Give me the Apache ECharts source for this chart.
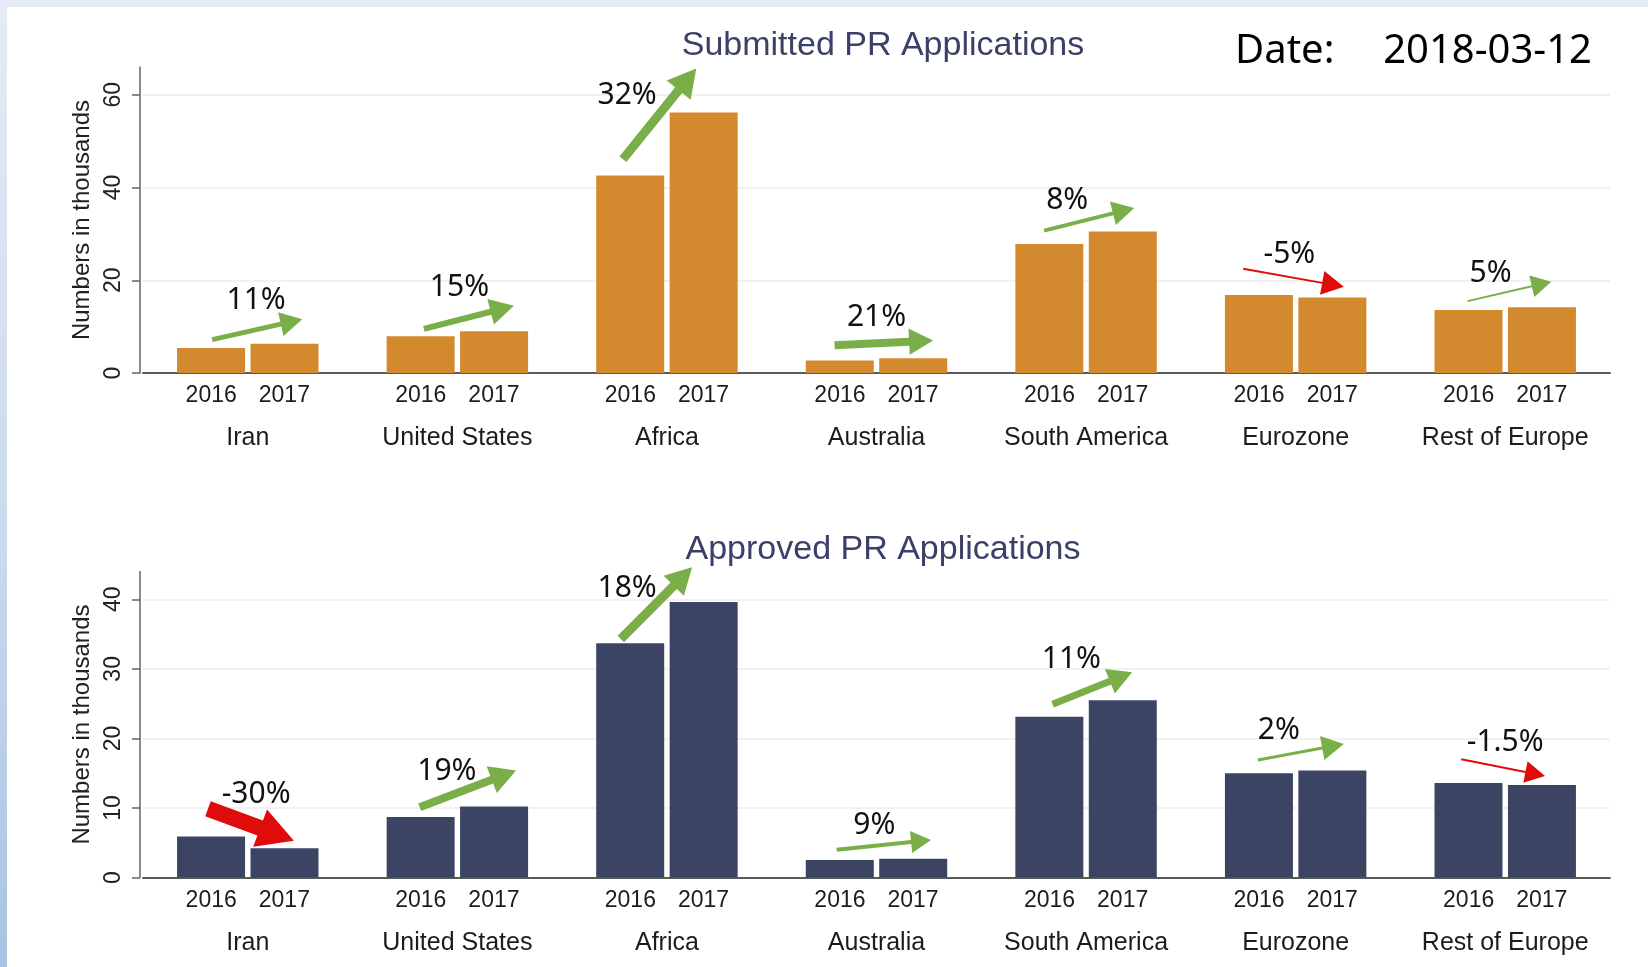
<!DOCTYPE html>
<html>
<head>
<meta charset="utf-8">
<title>PR Applications</title>
<script src="https://cdn.jsdelivr.net/npm/echarts@6/dist/echarts.min.js"></script>
<style>
  html, body { margin: 0; padding: 0; }
  body {
    width: 1648px;
    height: 967px;
    position: relative;
    overflow: hidden;
    background: linear-gradient(180deg, #e4ebf5 0%, #cbdaee 55%, #a9c3e4 100%);
  }
  .sheet { position: absolute; left: 7px; top: 7px; right: 0; bottom: 0; background: #fff; }
  #main { position: absolute; left: 0; top: 0; width: 1648px; height: 967px; }
</style>
</head>
<body>
<div class="sheet"></div>
<div id="main"></div>
<script>
// categories and years
var regions = ["Iran", "United States", "Africa", "Australia", "South America", "Eurozone", "Rest of Europe"];
var years = ["2016", "2017"];

// numbers in thousands
var submitted2016 = [5.4, 7.9, 42.6, 2.7, 27.8, 16.8, 13.6];
var submitted2017 = [6.3, 9.0, 56.2, 3.2, 30.5, 16.3, 14.2];
var approved2016 = [5.9, 8.7, 33.7, 2.5, 23.1, 15.0, 13.6];
var approved2017 = [4.2, 10.2, 39.6, 2.7, 25.5, 15.4, 13.3];

// change labels (%)
var submittedChange = [11, 15, 32, 21, 8, -5, 5];
var approvedChange = [-30, 19, 18, 9, 11, 2, -1.5];

// arrows in data units: [from category offset, from value, to category offset, to value]
var submittedArrows = [
  [-0.17, 7.2, 0.26, 11.6],
  [0.84, 9.5, 1.27, 14.5],
  [1.79, 46.1, 2.14, 65.7],
  [2.80, 6.0, 3.27, 7.0],
  [3.80, 30.7, 4.23, 35.6],
  [4.75, 22.5, 5.23, 18.6],
  [5.82, 15.5, 6.22, 19.7]
];
var submittedLabelAt = [[0.04, 15.6], [1.01, 18.4], [1.81, 59.9], [3.0, 11.9], [3.91, 37.2], [4.97, 25.5], [5.93, 21.5]];

var approvedArrows = [
  [-0.19, 9.9, 0.22, 5.3],
  [0.82, 10.1, 1.28, 15.4],
  [1.78, 34.3, 2.12, 44.6],
  [2.81, 4.0, 3.26, 5.4],
  [3.84, 24.9, 4.22, 29.5],
  [4.82, 16.9, 5.23, 19.2],
  [5.79, 17.0, 6.19, 14.6]
];
var approvedLabelAt = [[0.04, 11.9], [0.95, 15.2], [1.81, 41.5], [2.99, 7.5], [3.93, 31.3], [4.92, 21.1], [6.0, 19.4]];

var submittedTicks = [0, 20, 40, 60];
var approvedTicks = [0, 10, 20, 30, 40];

// arrow thickness [shaft, head] in px
var submittedArrowSize = [[5, 22], [6, 24], [9, 28], [8, 24], [4, 22], [2, 22], [2, 20]];
var approvedArrowSize = [[16, 36], [8, 26], [9, 26], [4, 20], [7, 24], [3, 22], [2, 20]];

var chart = echarts.init(document.getElementById("main"));

var SANS = "'Liberation Sans', Arial, Helvetica, sans-serif";
var GREEN = "#7aae48";
var RED = "#e00c0c";

function arrowRenderer(changes, labelAt, sizes) {
  return function (params, api) {
    var i = params.dataIndex;
    var p0 = api.coord([api.value(0), api.value(1)]);
    var p1 = api.coord([api.value(2), api.value(3)]);
    var dx = p1[0] - p0[0], dy = p1[1] - p0[1];
    var len = Math.sqrt(dx * dx + dy * dy);
    var ux = dx / len, uy = dy / len;
    var nx = -uy, ny = ux;
    var s = sizes[i][0] / 2;
    var hl = sizes[i][1];
    var hw = sizes[i][1] * 0.55;
    var bx = p1[0] - ux * hl, by = p1[1] - uy * hl;
    var pts = [
      [p0[0] + nx * s, p0[1] + ny * s],
      [bx + nx * s, by + ny * s],
      [bx + nx * hw, by + ny * hw],
      [p1[0], p1[1]],
      [bx - nx * hw, by - ny * hw],
      [bx - nx * s, by - ny * s],
      [p0[0] - nx * s, p0[1] - ny * s]
    ];
    var lp = api.coord(labelAt[i]);
    return {
      type: "group",
      children: [
        {
          type: "polygon",
          shape: { points: pts },
          style: { fill: changes[i] < 0 ? RED : GREEN }
        },
        {
          type: "text",
          x: lp[0],
          y: lp[1],
          style: {
            text: changes[i] + "%",
            fill: "#111",
            font: "30px 'Noto Sans', 'Open Sans', sans-serif",
            align: "center",
            verticalAlign: "middle"
          }
        }
      ]
    };
  };
}

function categoryAxis(gridIndex) {
  return {
    type: "category",
    gridIndex: gridIndex,
    data: regions,
    axisTick: { show: false },
    axisLine: { lineStyle: { color: "#5a5a5a", width: 2 } },
    axisLabel: {
      interval: 0,
      margin: 8,
      formatter: function (name) {
        return "{y|" + years[0] + "}{g|}{y|" + years[1] + "}\n{c|" + name + "}";
      },
      rich: {
        y: { fontFamily: SANS, fontSize: 23, color: "#1c1c1c", lineHeight: 30 },
        g: { width: 22, lineHeight: 30 },
        c: { fontFamily: SANS, fontSize: 25, color: "#1c1c1c", lineHeight: 55 }
      }
    }
  };
}

function hiddenValueAxis(gridIndex) {
  return { type: "value", gridIndex: gridIndex, min: -0.5, max: 6.5, show: false };
}

function valueAxis(gridIndex, max, ticks) {
  return {
    type: "value",
    gridIndex: gridIndex,
    min: 0,
    max: max,
    interval: ticks[1] - ticks[0],
    offset: 3,
    name: "Numbers in thousands",
    nameLocation: "middle",
    nameRotate: 90,
    nameGap: 46,
    nameTextStyle: { fontFamily: SANS, fontSize: 24, color: "#222" },
    axisLine: { show: true, onZero: false, lineStyle: { color: "#666", width: 1.5 } },
    axisTick: { show: true, length: 8, customValues: ticks, lineStyle: { color: "#666", width: 1.5 } },
    axisLabel: {
      rotate: 90,
      margin: 15,
      customValues: ticks,
      fontFamily: SANS,
      fontSize: 23,
      color: "#222"
    },
    splitLine: { show: true, lineStyle: { color: "#ececec", width: 1.5 } }
  };
}

var option = {
  animation: false,
  backgroundColor: "transparent",
  title: [
    {
      text: "Submitted PR Applications",
      left: 878,
      top: 24,
      textAlign: "center",
      textStyle: { fontFamily: SANS, fontSize: 34, fontWeight: "normal", color: "#3b4068" }
    },
    {
      text: "Approved PR Applications",
      left: 878,
      top: 528,
      textAlign: "center",
      textStyle: { fontFamily: SANS, fontSize: 34, fontWeight: "normal", color: "#3b4068" }
    }
  ],
  graphic: [
    {
      type: "text",
      left: 1235,
      top: 32,
      style: { text: "Date:", font: "40px 'Noto Sans', sans-serif", fill: "#000" }
    },
    {
      type: "text",
      right: 56,
      top: 32,
      style: { text: "2018-03-12", font: "40px 'Noto Sans', sans-serif", fill: "#000" }
    }
  ],
  grid: [
    { left: 143, right: 38, top: 67, height: 306 },
    { left: 143, right: 38, top: 571.5, height: 306 }
  ],
  xAxis: [categoryAxis(0), hiddenValueAxis(0), categoryAxis(1), hiddenValueAxis(1)],
  yAxis: [valueAxis(0, 66, submittedTicks), valueAxis(1, 44, approvedTicks)],
  series: [
    {
      name: years[0], type: "bar", xAxisIndex: 0, yAxisIndex: 0,
      barWidth: 68, barGap: "8%",
      itemStyle: { color: "#d3892d" },
      data: submitted2016
    },
    {
      name: years[1], type: "bar", xAxisIndex: 0, yAxisIndex: 0,
      barWidth: 68, barGap: "8%",
      itemStyle: { color: "#d3892d" },
      data: submitted2017
    },
    {
      name: years[0], type: "bar", xAxisIndex: 2, yAxisIndex: 1,
      barWidth: 68, barGap: "8%",
      itemStyle: { color: "#3c4463" },
      data: approved2016
    },
    {
      name: years[1], type: "bar", xAxisIndex: 2, yAxisIndex: 1,
      barWidth: 68, barGap: "8%",
      itemStyle: { color: "#3c4463" },
      data: approved2017
    },
    {
      type: "custom", xAxisIndex: 1, yAxisIndex: 0, clip: false, z: 5,
      encode: { x: [0, 2], y: [1, 3] },
      renderItem: arrowRenderer(submittedChange, submittedLabelAt, submittedArrowSize),
      data: submittedArrows
    },
    {
      type: "custom", xAxisIndex: 3, yAxisIndex: 1, clip: false, z: 5,
      encode: { x: [0, 2], y: [1, 3] },
      renderItem: arrowRenderer(approvedChange, approvedLabelAt, approvedArrowSize),
      data: approvedArrows
    }
  ]
};

chart.setOption(option);
</script>
</body>
</html>
